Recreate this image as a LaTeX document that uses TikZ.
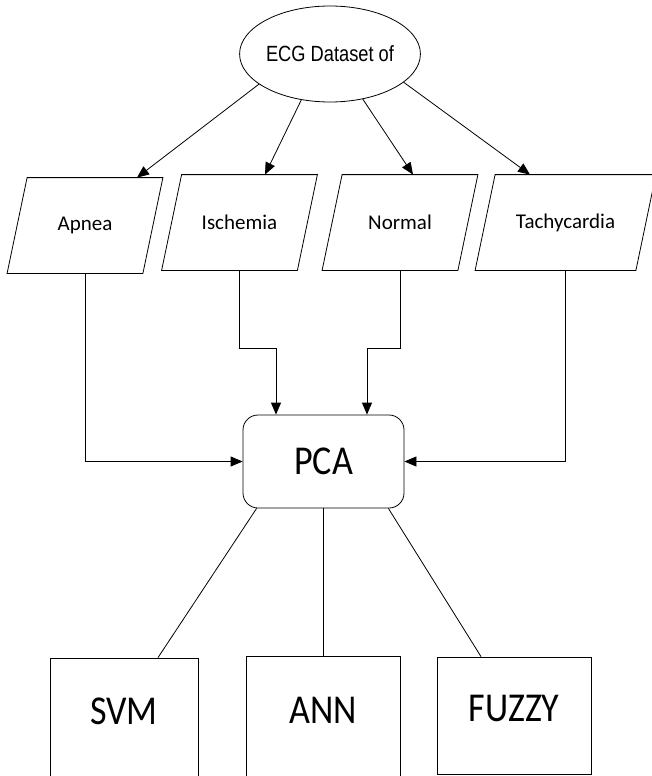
\documentclass[tikz,border=0pt]{standalone}
\usepackage{fontspec}
\usepackage{graphicx}
\setmainfont{Carlito}
\newfontfamily\arialfont{Liberation Sans}
\usetikzlibrary{shapes.geometric}
\usetikzlibrary{arrows.meta}
\usetikzlibrary{calc}

\newcommand{\narrowtext}[2]{\scalebox{#1}[1]{#2}}

\begin{document}
\begin{tikzpicture}[x=1pt, y=-1pt, line width=0.8pt,
  dataset/.style={draw, ellipse, minimum width=166pt, minimum height=96pt, inner sep=0pt, font=\fontsize{22}{26}\selectfont},
  ecgclass/.style={minimum width=135pt, minimum height=95pt, inner sep=0pt, font=\fontsize{21}{24}\selectfont},
  reduce/.style={draw, rounded corners=15pt, minimum width=161pt, minimum height=93pt, font=\fontsize{41}{46}\selectfont},
  method/.style={draw, minimum width=154pt, text depth=15pt, font=\fontsize{41}{46}\selectfont},
  flow/.style={-{Triangle[length=12pt,width=10pt]}}]

\useasboundingbox (0,0) rectangle (651,776);

% dataset and the four classes
\node[dataset] (ecg) at (330,54) {\arialfont\narrowtext{0.83}{ECG Dataset of}};

\node[ecgclass] (apnea) at (85,225.5) {Apnea};
\node[ecgclass] (ischemia) at (239.5,222.5) {Ischemia};
\node[ecgclass] (normal) at (400,222.5) {Normal};
\node[ecgclass, minimum width=160pt] (tachy) at (565.5,222.5) {Tachycardia};

\foreach \n in {apnea, ischemia, normal, tachy}
{
\draw ([xshift=10pt]\n.north west) -- ([xshift=10pt]\n.north east) -- ([xshift=-10pt]\n.south east) -- ([xshift=-10pt]\n.south west) -- cycle;
}

\draw[flow] (ecg.203) -- ([xshift=52pt]apnea.north);
\draw[flow] (ecg.238) -- ([xshift=25.5pt]ischemia.north);
\draw[flow] (ecg.306) -- ([xshift=13pt]normal.north);
\draw[flow] (ecg.339) -- ([xshift=-35.5pt]tachy.north);

% feature reduction
\node[reduce] (pca) at (323.5,461.5) {\narrowtext{0.88}{PCA}};

\draw[flow] (apnea.south) |- (pca.west);
\draw[flow] (ischemia.south) -- ++(0,78) -| ([xshift=-47.5pt]pca.north);
\draw[flow] (normal.south) -- ++(0,78) -| ([xshift=43.5pt]pca.north);
\draw[flow] (tachy.south) |- (pca.east);

% classifiers
\node[method, minimum width=148pt, minimum height=122pt] (svm) at (124,719) {\narrowtext{0.88}{SVM}};
\node[method, minimum height=123pt] (ann) at (323.5,717.5) {\narrowtext{0.88}{ANN}};
\node[method, minimum height=117pt] (fuzzy) at (514,715.5) {\narrowtext{0.88}{FUZZY}};

\draw ([xshift=14pt]pca.south west) -- ([xshift=34pt]svm.north);
\draw (pca.south) -- (ann.north);
\draw ([xshift=-16pt]pca.south east) -- ([xshift=-33pt]fuzzy.north);

\end{tikzpicture}
\end{document}
